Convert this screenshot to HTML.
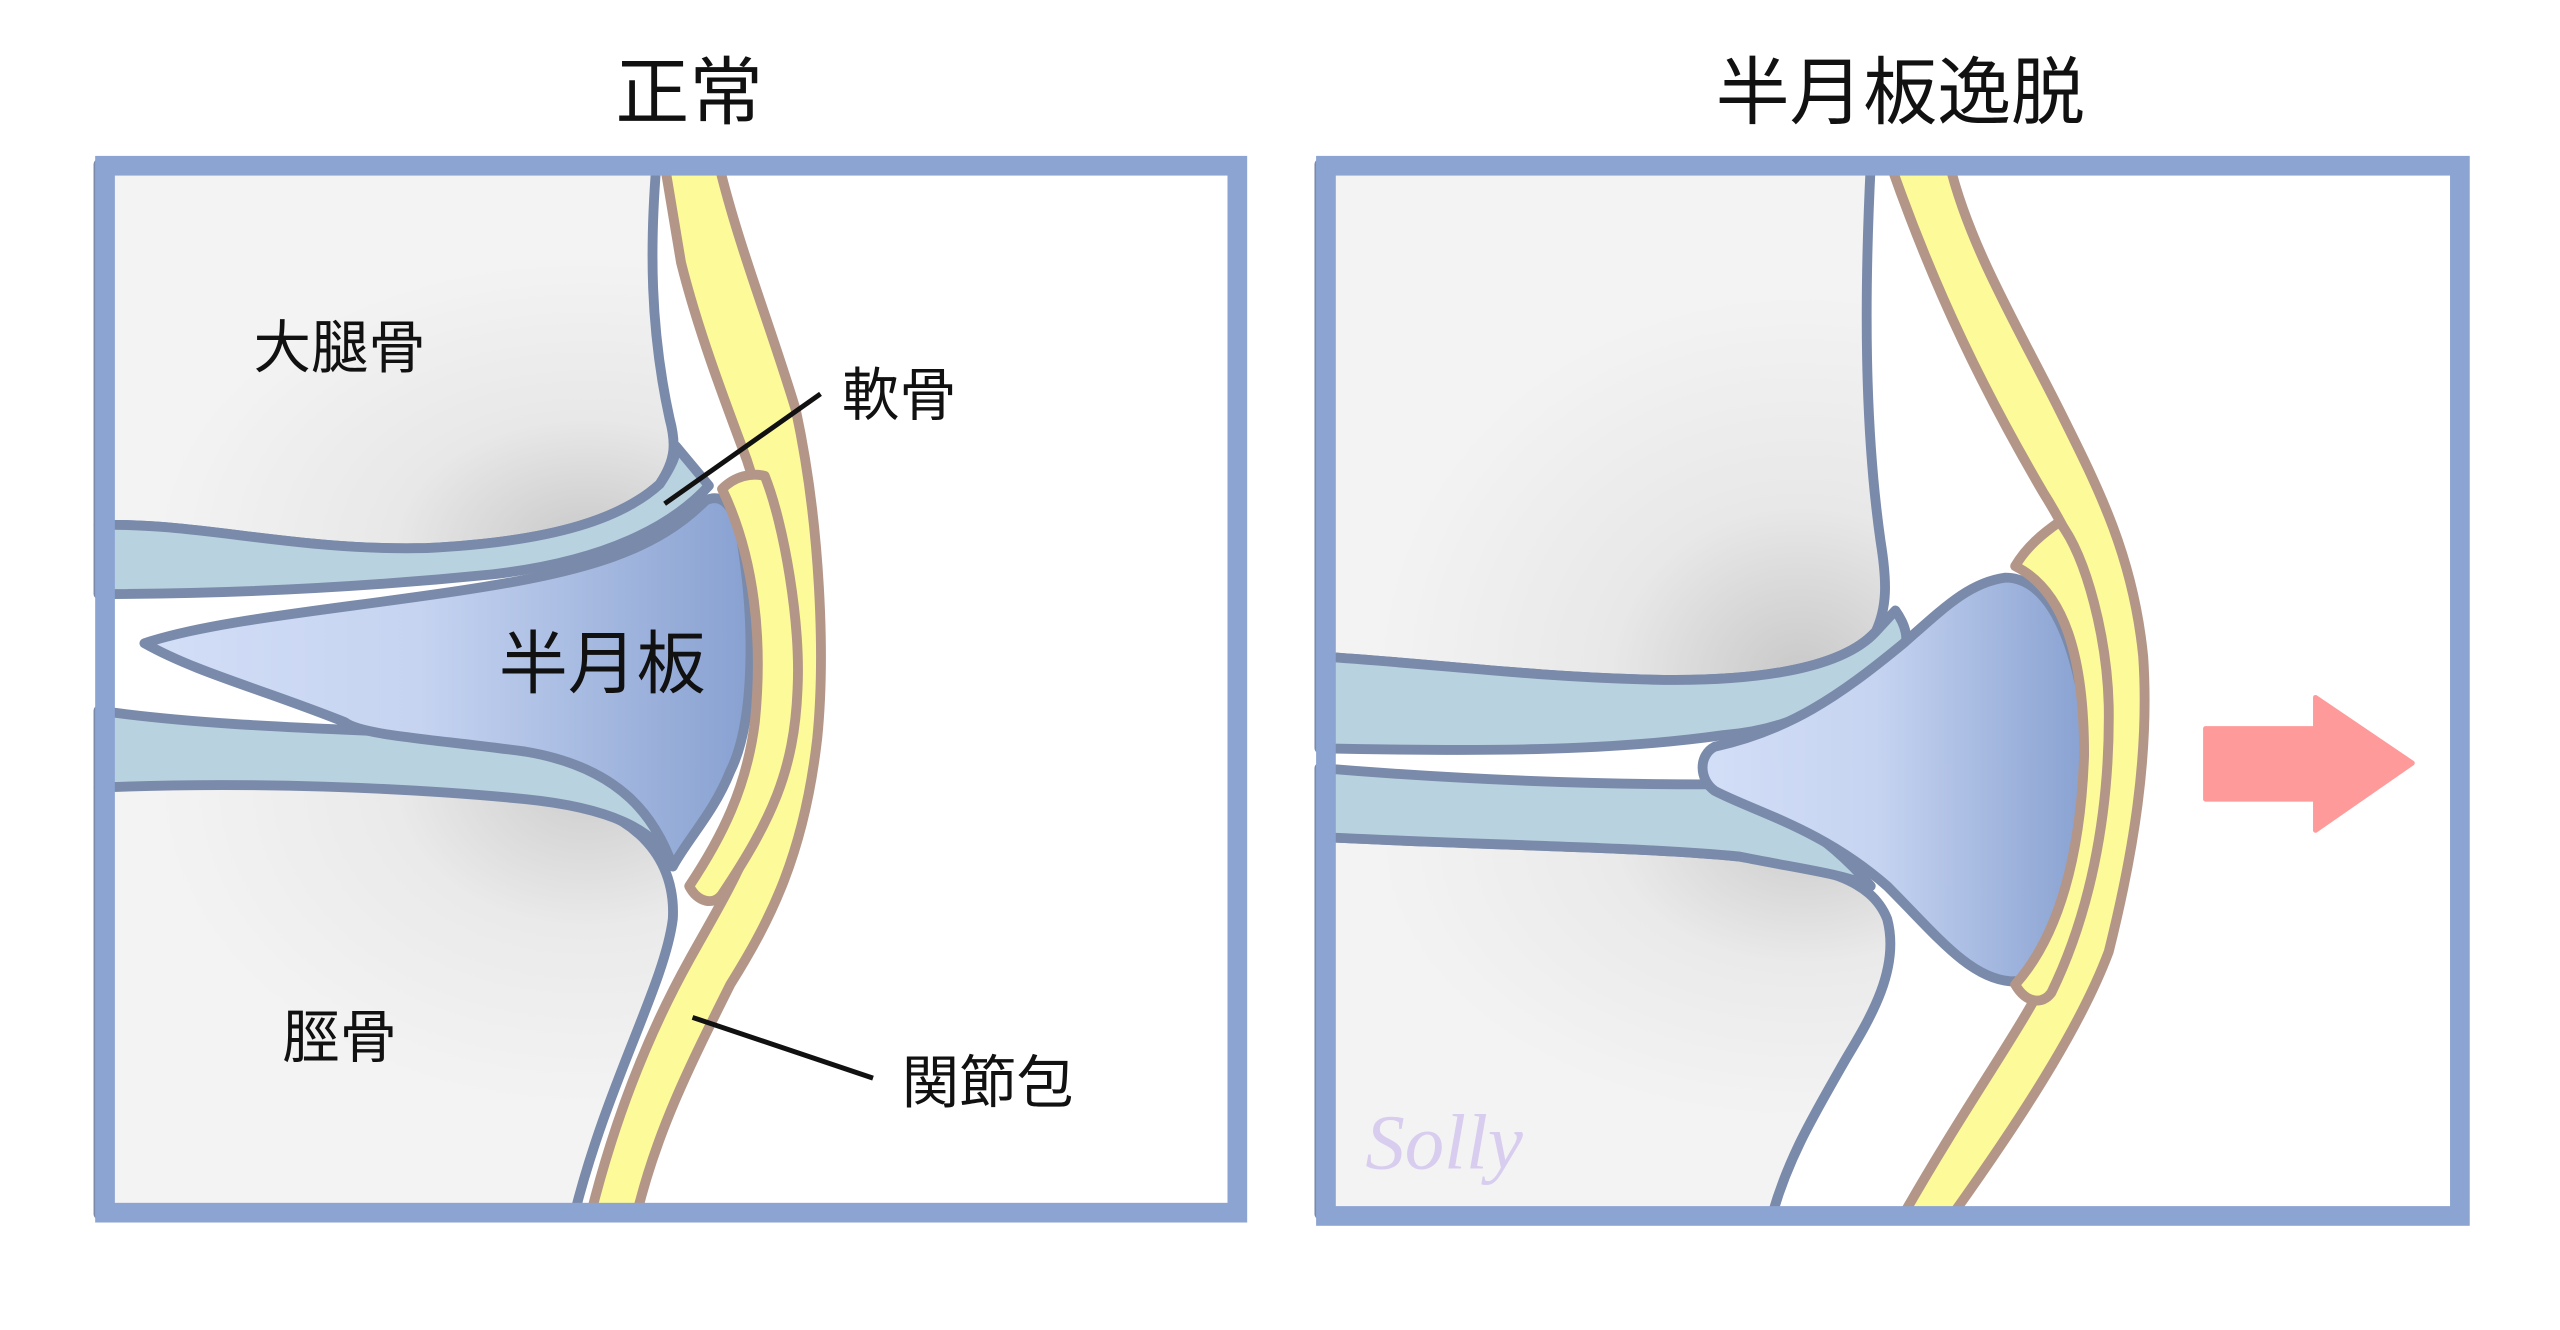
<!DOCTYPE html>
<html><head><meta charset="utf-8"><style>
html,body{margin:0;padding:0;background:#fff;}
svg{display:block;}
text{font-family:"Liberation Sans","Noto Sans CJK JP",sans-serif;fill:#111;}
</style></head><body>
<svg width="2560" height="1330" viewBox="0 0 1560 810.5" preserveAspectRatio="none" xmlns="http://www.w3.org/2000/svg">
<defs>
<radialGradient id="gf" cx="0.85" cy="1.0" r="0.75"><stop offset="0" stop-color="#c8c8c8"/><stop offset="0.45" stop-color="#e8e8e8"/><stop offset="1" stop-color="#f3f3f3"/></radialGradient>
<radialGradient id="gt" cx="0.85" cy="0.0" r="0.75"><stop offset="0" stop-color="#cdcdcd"/><stop offset="0.45" stop-color="#eaeaea"/><stop offset="1" stop-color="#f3f3f3"/></radialGradient>
<linearGradient id="gm" x1="0" y1="0" x2="1" y2="0"><stop offset="0" stop-color="#d3def7"/><stop offset="0.45" stop-color="#c6d4f1"/><stop offset="1" stop-color="#88a1d1"/></linearGradient>
</defs>
<rect width="1560" height="810.5" fill="#fff"/>
<text x="420" y="72" font-size="45" text-anchor="middle">正常</text>
<text x="1158" y="72" font-size="45" text-anchor="middle">半月板逸脱</text>

<!-- LEFT PANEL -->
<g stroke="#7a8aaa" stroke-width="6" stroke-linejoin="round">
<path d="M60,100 L400,100 C396,150 396,200 408,255 C412,270 412,280 402,295 C380,315 340,330 260,334 C180,336 120,318 60,320 Z" fill="url(#gf)"/>
<path d="M60,480 C150,472 280,478 340,487 C390,495 412,525 410,560 C405,600 370,660 350,740 L60,740 Z" fill="url(#gt)"/>
<path d="M60,320 C120,318 180,336 260,334 C340,330 380,315 402,295 C412,280 412,275 412,272 L432,296 C410,320 370,342 300,350 C220,358 140,362 60,362 Z" fill="#b9d2df"/>
<path d="M60,433 C150,446 260,444 330,452 C380,458 400,490 410,528 C400,505 370,492 320,487 C250,480 150,476 60,480 Z" fill="#b9d2df"/>
<path d="M88,392 C130,378 200,372 280,360 C360,348 400,335 430,305 C440,300 448,308 452,330 C460,380 460,440 445,470 C435,495 420,510 410,528 C400,500 380,468 320,458 C260,450 220,448 210,440 C160,420 120,410 88,392 Z" fill="url(#gm)"/>
</g>
<g stroke="#b39688" stroke-width="6" stroke-linejoin="round" fill="#fdfa9a">
<path d="M405,100 L438,100 C450,150 470,200 485,250 C500,320 503,400 498,450 C490,520 470,560 445,600 C420,650 400,690 388,740 L360,740 C375,680 395,630 420,585 C445,540 465,510 470,460 C475,400 472,330 455,280 C440,240 425,200 415,160 Z"/>
<path d="M440,298 C448,290 458,288 466,290 C478,320 488,380 486,420 C484,470 470,500 440,545 C435,552 425,550 420,540 C440,510 455,480 460,440 C465,390 460,340 440,298 Z"/>
</g>
<line x1="405" y1="307" x2="500" y2="240" stroke="#111" stroke-width="3"/>
<line x1="422" y1="620" x2="532" y2="657" stroke="#111" stroke-width="3"/>
<text x="207" y="224" font-size="35" text-anchor="middle">大腿骨</text>
<text x="548" y="253" font-size="35" text-anchor="middle">軟骨</text>
<text x="367" y="419" font-size="42" text-anchor="middle">半月板</text>
<text x="207" y="644" font-size="35" text-anchor="middle">脛骨</text>
<text x="602" y="672" font-size="35" text-anchor="middle">関節包</text>
<rect x="64" y="101" width="690" height="638" fill="none" stroke="#8ca4d2" stroke-width="12"/>

<!-- RIGHT PANEL -->
<g stroke="#7a8aaa" stroke-width="6" stroke-linejoin="round">
<path d="M804,100 L1140,100 C1136,180 1136,260 1146,330 C1150,355 1150,370 1143,385 C1120,410 1060,416 1000,414 C930,412 880,405 804,400 Z" fill="url(#gf)"/>
<path d="M804,510 C900,515 1000,516 1060,522 C1110,528 1140,535 1150,560 C1158,590 1140,620 1125,645 C1105,680 1090,705 1080,740 L804,740 Z" fill="url(#gt)"/>
<path d="M804,400 C880,405 930,412 1000,414 C1060,416 1120,410 1143,385 L1155,372 C1162,382 1163,390 1160,395 C1120,430 1090,445 1050,448 C980,458 900,458 804,456 Z" fill="#b9d2df"/>
<path d="M804,468 C900,476 980,478 1040,478 C1080,490 1110,505 1140,540 C1120,532 1100,530 1060,522 C1000,516 900,515 804,510 Z" fill="#b9d2df"/>
<path d="M1045,455 C1090,445 1120,425 1160,392 C1185,370 1200,355 1222,352 C1245,352 1260,380 1268,420 C1275,470 1272,520 1264,570 C1260,590 1245,598 1225,598 C1200,596 1180,570 1150,540 C1110,505 1070,495 1045,482 C1035,475 1035,460 1045,455 Z" fill="url(#gm)"/>
</g>
<g stroke="#b39688" stroke-width="6" stroke-linejoin="round" fill="#fdfa9a">
<path d="M1152,100 L1188,100 C1200,150 1230,200 1255,250 C1280,300 1300,340 1306,400 C1310,460 1300,520 1285,580 C1270,620 1240,670 1190,740 L1160,740 C1200,670 1230,630 1250,590 C1270,540 1280,480 1280,420 C1280,370 1270,340 1245,300 C1210,240 1180,180 1152,100 Z"/>
<path d="M1228,345 C1235,333 1245,325 1255,318 C1272,340 1284,390 1285,430 C1286,500 1272,560 1250,605 C1245,612 1235,612 1228,600 C1255,570 1268,520 1270,460 C1270,400 1258,360 1228,345 Z"/>
</g>
<path d="M1344,444 L1411,444 L1411,425 L1470,465 L1411,506 L1411,487 L1344,487 Z" fill="#ff9a9a" stroke="#ff9a9a" stroke-width="3" stroke-linejoin="round"/>
<text x="832" y="712" font-size="48" font-style="italic" style="fill:#d8cdee;font-family:'Liberation Serif',serif">Solly</text>
<rect x="808" y="101" width="691" height="640" fill="none" stroke="#8ca4d2" stroke-width="12"/>
</svg>
</body></html>
